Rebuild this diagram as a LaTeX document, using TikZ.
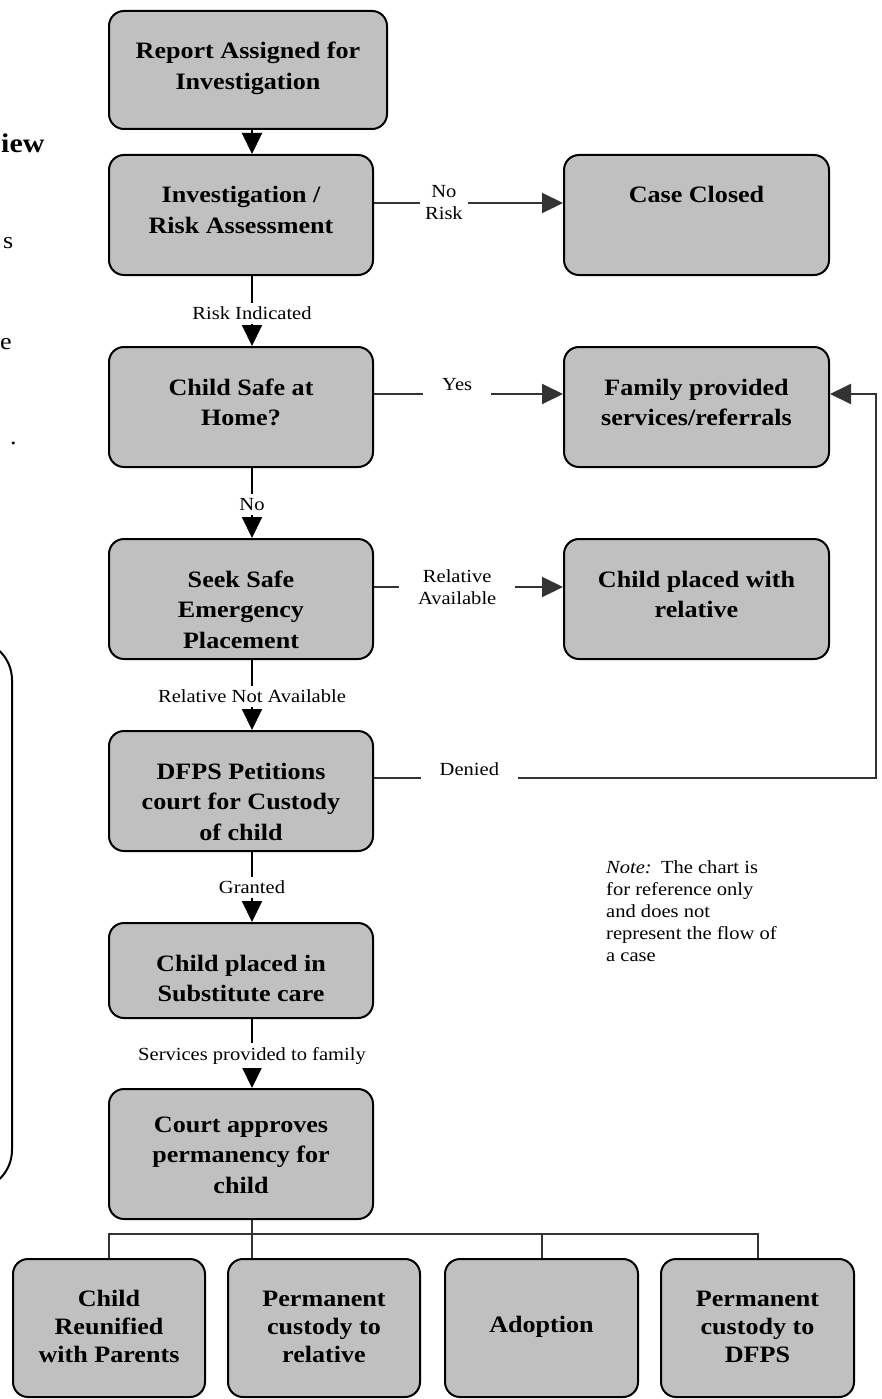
\documentclass[tikz,border=0pt]{standalone}
\usepackage{fontspec}
\setmainfont{Liberation Serif}[FakeStretch=1.11]
\usetikzlibrary{arrows.meta}
\definecolor{boxgray}{RGB}{192,192,192}
\definecolor{linegray}{RGB}{51,51,51}
% box text: [first baseline]{height}{width}{lines}
\newcommand{\boxtext}[4][48pt]{\parbox[c][#2][t]{#3}{\centering\rule{0pt}{#1}#4}}
\tikzset{
	node_box/.style = {
		draw=black,
		fill=boxgray,
		rounded corners=15pt,
		line width=2pt,
		inner sep=0pt,
		anchor=north west,
		font=\bfseries\fontsize{23.5}{30.5}\selectfont
	},
	node_box_low/.style = {
		node_box,
		font=\bfseries\fontsize{23.5}{28}\selectfont
	},
	node_label/.style = {
		fill=white,
		align=center,
		inner xsep=19pt,
		inner ysep=4pt,
		font=\fontsize{18.5}{22}\selectfont
	},
	node_label_up/.style = {
		node_label,
		yshift=9pt,
		inner ysep=10pt
	},
	node_note/.style = {
		align=left,
		inner sep=0pt,
		anchor=north west,
		font=\fontsize{18.5}{22}\selectfont
	},
	node_frag/.style = {
		inner sep=0pt,
		anchor=base west,
		font=\fontsize{23.5}{28}\selectfont
	},
	edge_down/.style = {->, draw=black, line width=2pt},
	edge_side/.style = {->, draw=linegray, line width=2pt},
	edge_bus/.style = {draw=linegray, line width=2pt},
}

\begin{document}
\begin{tikzpicture}[x=1pt, y=-1pt, >={Triangle[length=21pt,width=20pt]}]
\useasboundingbox (0,0) rectangle (882,1399);

% left page fragments
\draw[line width=2pt, rounded corners=40pt] (-300,640) rectangle (12,1190);
\node[node_frag, font=\bfseries\fontsize{27}{27}\selectfont] (frag_head) at (1,153) {iew};
\node[node_frag] (frag_s) at (3,248) {s};
\node[node_frag] (frag_e) at (0,349) {e};
\node[node_frag] (frag_dot) at (10,444) {.};

% main column
\node [node_box] (report) at (108,10) {\boxtext{118pt}{278pt}{Report Assigned for\\Investigation}};
\node [node_box] (invest) at (108,154) {\boxtext{120pt}{264pt}{Investigation /\\Risk Assessment}};
\node [node_box] (safe) at (108,346) {\boxtext{120pt}{264pt}{Child Safe at\\Home?}};
\node [node_box] (seek) at (108,538) {\boxtext{120pt}{264pt}{Seek Safe\\Emergency\\Placement}};
\node [node_box] (petition) at (108,730) {\boxtext{120pt}{264pt}{DFPS Petitions\\court for Custody\\of child}};
\node [node_box] (subst) at (108,922) {\boxtext{95pt}{264pt}{Child placed in\\Substitute care}};
\node [node_box] (court) at (108,1088) {\boxtext[43pt]{130pt}{264pt}{Court approves\\permanency for\\child}};

% right column
\node [node_box] (closed) at (563,154) {\boxtext{120pt}{265pt}{Case Closed}};
\node [node_box] (family) at (563,346) {\boxtext{120pt}{265pt}{Family provided\\services/referrals}};
\node [node_box] (relative) at (563,538) {\boxtext{120pt}{265pt}{Child placed with\\relative}};

% outcomes
\node [node_box_low] (reunify) at (12,1258) {\boxtext[47pt]{138pt}{192pt}{Child\\Reunified\\with Parents}};
\node [node_box_low] (permrel) at (227,1258) {\boxtext[47pt]{138pt}{192pt}{Permanent\\custody to\\relative}};
\node [node_box_low] (adopt) at (444,1258) {\boxtext[73pt]{138pt}{193pt}{Adoption}};
\node [node_box_low] (permdfps) at (660,1258) {\boxtext[47pt]{138pt}{193pt}{Permanent\\custody to\\DFPS}};

\node [node_note] (note) at (606,860) {\textit{Note:}\enspace The chart is\\for reference only\\and does not\\represent the flow of\\a case};

\coordinate (spine) at (252,0);
\coordinate (loop) at (876,0);
\coordinate (bus) at (0,1234);

% down the spine
\draw[edge_down] (report.south -| spine) -- (invest.north -| spine);
\draw[edge_down] (invest.south -| spine) -- node[node_label, pos=.53] {Risk Indicated} (safe.north -| spine);
\draw[edge_down] (safe.south -| spine) -- node[node_label, pos=.52] {No} (seek.north -| spine);
\draw[edge_down] (seek.south -| spine) -- node[node_label, pos=.52] {Relative Not Available} (petition.north -| spine);
\draw[edge_down] (petition.south -| spine) -- node[node_label, pos=.5] {Granted} (subst.north -| spine);
\draw[edge_down] (subst.south -| spine) -- node[node_label, pos=.53] {Services provided to family} (court.north -| spine);

% side branches
\draw[edge_side] ([yshift=12pt]invest.east) -- node[node_label, inner xsep=5pt, pos=.37] {No\\Risk} ([yshift=12pt]invest.east -| closed.west);
\draw[edge_side] ([yshift=13pt]safe.east) -- node[node_label_up, pos=.44] {Yes} ([yshift=13pt]safe.east -| family.west);
\draw[edge_side] ([yshift=12pt]seek.east) -- node[node_label, pos=.44] {Relative\\Available} ([yshift=12pt]seek.east -| relative.west);
\draw[edge_side] ([yshift=13pt]petition.east) -- node[node_label_up, pos=.19] {Denied} ([yshift=13pt]petition.east -| loop) |- ([yshift=13pt]family.east);

% outcomes bus
\draw[edge_bus] (court.south -| spine) -- (permrel.north -| spine);
\draw[edge_bus] (reunify.north) |- (bus -| permdfps.north) -- (permdfps.north);
\draw[edge_bus] (bus -| adopt.north) -- (adopt.north);
\end{tikzpicture}
\end{document}
